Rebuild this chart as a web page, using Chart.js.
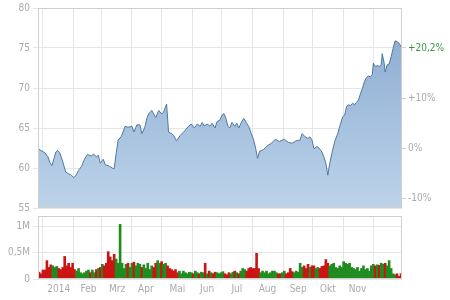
<!DOCTYPE html>
<html>
<head>
<meta charset="utf-8">
<script src="https://cdn.jsdelivr.net/npm/chart.js@4"></script>
<style>
  body { margin: 0; background: #fff; }
  #wrap { position: relative; width: 450px; height: 300px; }
  #priceBox { position: absolute; left: 0; top: 0; width: 450px; height: 220px; }
  #volBox { position: absolute; left: 0; top: 212px; width: 450px; height: 88px; }
</style>
</head>
<body>
<div id="wrap">
  <div id="priceBox"><canvas id="priceChart"></canvas></div>
  <div id="volBox"><canvas id="volChart"></canvas></div>
</div>
<script>
// day 0 = 1 Jan 2014
const priceDays = [-5, 2, 5, 7, 9, 11, 13, 15, 17, 20, 23, 26, 28, 31, 33, 36, 39, 42, 45, 49,
  51, 54, 56, 58, 61, 63, 67, 70, 72, 74, 76, 79, 81, 83, 86, 90, 92, 95, 98, 100,
  103, 105, 107, 110, 112, 114, 117, 120, 122, 125, 127, 130, 132, 135, 139, 143, 147, 150, 153, 156,
  159, 161, 163, 166, 169, 171, 174, 176, 179, 181, 183, 185, 187, 189, 191, 194, 196, 198, 201, 203,
  206, 208, 210, 213, 215, 217, 219, 223, 226, 231, 235, 239, 244, 248, 252, 256, 260, 262, 265, 268,
  270, 272, 274, 277, 279, 282, 284, 286, 288, 290, 292, 295, 298, 301, 303, 305, 307, 309, 311, 313,
  315, 317, 319, 321, 323, 325, 327, 329, 331, 333, 334, 336, 338, 340, 342, 343, 345, 346, 348, 350,
  352, 354, 356, 358, 360, 362, 363];
const prices = [62.4, 61.9, 61.4, 60.7, 60.3, 61.1, 62.0, 62.2, 61.9, 60.8, 59.5, 59.25, 59.2, 58.8, 59.0, 59.7, 60.2, 61.1, 61.7, 61.5,
  61.75, 61.4, 61.6, 60.6, 61.1, 60.4, 60.25, 60.0, 59.9, 61.8, 63.5, 63.9, 64.5, 65.2, 65.1, 65.2, 64.5, 65.4, 65.4, 64.3,
  65.1, 66.2, 66.8, 67.2, 66.75, 66.3, 67.2, 66.75, 67.0, 68.0, 64.5, 64.3, 64.1, 63.4, 64.1, 64.6, 65.2, 65.5, 65.0, 65.5,
  65.2, 65.7, 65.25, 65.5, 65.2, 65.6, 65.0, 65.8, 66.0, 66.6, 66.8, 66.2, 65.2, 65.0, 65.7, 65.2, 65.6, 65.0, 65.8, 66.2,
  65.6, 65.2, 64.5, 63.5, 62.5, 61.2, 62.1, 62.3, 62.7, 63.1, 63.6, 63.3, 63.6, 63.2, 63.1, 63.4, 63.5, 64.3, 63.9, 63.7,
  63.9, 63.5, 62.4, 62.7, 62.5, 62.0, 61.4, 60.6, 59.1, 60.6, 61.8, 63.3, 64.3, 65.6, 66.4, 66.6, 67.7, 67.9, 67.8, 68.1,
  67.9, 68.2, 68.5, 69.3, 69.95, 70.8, 71.3, 71.5, 71.4, 71.7, 73.1, 72.7, 72.8, 72.7, 72.9, 74.3, 73.1, 72.0, 72.9, 73.0,
  73.9, 74.95, 75.9, 75.8, 75.6, 75.2, 75.0];

const volDays = [-4, -2, 0, 2, 4, 6, 8, 10, 12, 14, 16, 18, 20, 22, 24, 26, 28, 30, 32, 34,
  36, 38, 40, 42, 44, 46, 48, 50, 52, 54, 56, 58, 60, 62, 64, 66, 68, 70, 72, 74,
  76, 78, 80, 82, 84, 86, 88, 90, 92, 94, 96, 98, 100, 102, 104, 106, 108, 110, 112, 114,
  116, 118, 120, 122, 124, 126, 128, 130, 132, 134, 136, 138, 140, 142, 144, 146, 148, 150, 152, 154,
  156, 158, 160, 162, 164, 166, 168, 170, 172, 174, 176, 178, 180, 182, 184, 186, 188, 190, 192, 194,
  196, 198, 200, 202, 204, 206, 208, 210, 212, 214, 216, 218, 220, 222, 224, 226, 228, 230, 232, 234,
  236, 238, 240, 242, 244, 246, 248, 250, 252, 254, 256, 258, 260, 262, 264, 266, 268, 270, 272, 274,
  276, 278, 280, 282, 284, 286, 288, 290, 292, 294, 296, 298, 300, 302, 304, 306, 308, 310, 312, 314,
  316, 318, 320, 322, 324, 326, 328, 330, 332, 334, 336, 338, 340, 342, 344, 346, 348, 350, 352, 354,
  356, 358, 360, 362];
// volume in millions
const volumes = [0.13, 0.10, 0.17, 0.17, 0.35, 0.22, 0.27, 0.25, 0.22, 0.24, 0.20, 0.18, 0.22, 0.43, 0.25, 0.30, 0.22, 0.30, 0.18, 0.15,
  0.20, 0.12, 0.10, 0.12, 0.15, 0.17, 0.12, 0.17, 0.12, 0.18, 0.20, 0.22, 0.28, 0.25, 0.30, 0.52, 0.42, 0.35, 0.47, 0.38,
  0.30, 1.04, 0.30, 0.20, 0.28, 0.30, 0.22, 0.30, 0.32, 0.25, 0.30, 0.28, 0.22, 0.27, 0.20, 0.30, 0.18, 0.25, 0.22, 0.30,
  0.35, 0.30, 0.33, 0.28, 0.30, 0.25, 0.20, 0.18, 0.15, 0.18, 0.12, 0.15, 0.10, 0.15, 0.12, 0.10, 0.13, 0.12, 0.10, 0.15,
  0.12, 0.10, 0.13, 0.12, 0.30, 0.10, 0.15, 0.12, 0.10, 0.13, 0.12, 0.10, 0.12, 0.14, 0.10, 0.08, 0.12, 0.10, 0.13, 0.15,
  0.12, 0.10, 0.15, 0.20, 0.18, 0.15, 0.20, 0.22, 0.20, 0.20, 0.49, 0.20, 0.12, 0.15, 0.12, 0.15, 0.10, 0.12, 0.15, 0.15,
  0.12, 0.10, 0.10, 0.12, 0.15, 0.10, 0.12, 0.20, 0.14, 0.12, 0.15, 0.13, 0.30, 0.22, 0.25, 0.20, 0.28, 0.22, 0.25, 0.25,
  0.20, 0.22, 0.20, 0.24, 0.25, 0.37, 0.30, 0.25, 0.28, 0.30, 0.22, 0.20, 0.25, 0.22, 0.33, 0.30, 0.28, 0.30, 0.22, 0.20,
  0.18, 0.22, 0.15, 0.20, 0.25, 0.18, 0.20, 0.15, 0.25, 0.28, 0.25, 0.27, 0.26, 0.30, 0.28, 0.30, 0.25, 0.35, 0.20, 0.10,
  0.08, 0.10, 0.05, 0.10];

const monthStarts = [0, 31, 59, 90, 120, 151, 181, 212, 243, 273, 304, 334];
const labelDays = [16, 46, 75, 104, 136, 166, 196, 227, 258, 288, 318];
const monthLabels = ['2014', 'Feb', 'Mrz', 'Apr', 'Mai', 'Jun', 'Jul', 'Aug', 'Sep', 'Okt', 'Nov'];
const priceTicks = [55, 60, 65, 70, 75, 80];
const volTicks = [0, 0.5, 1];
const volTickLabels = ['0', '0,5M', '1M'];

const basePrice = prices[0];
const lastPrice = prices[prices.length - 1];
const pctTicks = [basePrice * 0.9, basePrice, basePrice * 1.1, lastPrice];

const FONT = { family: 'DejaVu Sans Condensed', size: 10 };
const GRID = '#e6e6e6';
const TXT = '#aaa';

function priceAt(d) {
  for (let i = 1; i < priceDays.length; i++) {
    if (d <= priceDays[i]) {
      const t = (d - priceDays[i - 1]) / (priceDays[i] - priceDays[i - 1]);
      return prices[i - 1] + t * (prices[i] - prices[i - 1]);
    }
  }
  return lastPrice;
}

// no label overflow padding, the layout padding decides
function noPad(s) {
  s.paddingTop = 0;
  s.paddingBottom = 0;
}

const frame = {
  id: 'frame',
  afterDraw(chart) {
    const a = chart.chartArea;
    const c = chart.ctx;
    c.save();
    c.strokeStyle = '#cfcfcf';
    c.lineWidth = 1;
    c.strokeRect(Math.round(a.left) + 0.5, Math.round(a.top) + 0.5, Math.round(a.right - a.left) - 1, Math.round(a.bottom - a.top) - 1);
    c.restore();
  }
};

// price chart
new Chart(document.getElementById('priceChart'), {
  type: 'line',
  data: {
    datasets: [{
      data: priceDays.map((d, i) => ({ x: d, y: prices[i] })),
      borderColor: '#52779f',
      borderWidth: 1,
      pointRadius: 0,
      fill: 'start',
      backgroundColor: function (ctx) {
        const a = ctx.chart.chartArea;
        if (!a) return '#a8c3e0';
        const g = ctx.chart.ctx.createLinearGradient(0, a.top, 0, a.bottom);
        g.addColorStop(0, '#86a8ce');
        g.addColorStop(1, '#bdd3ea');
        return g;
      }
    }]
  },
  options: {
    responsive: true,
    maintainAspectRatio: false,
    animation: false,
    layout: { padding: { top: 8 } },
    plugins: { legend: { display: false }, tooltip: { enabled: false } },
    scales: {
      x: {
        type: 'linear', min: -5, max: 363, offset: false,
        afterBuildTicks: s => { s.ticks = monthStarts.map(v => ({ value: v })); },
        afterFit: s => { s.height = 12; s.paddingLeft = 0; s.paddingRight = 0; },
        ticks: { display: false },
        grid: { color: GRID, drawTicks: false },
        border: { display: false }
      },
      y: {
        min: 55, max: 80,
        afterBuildTicks: s => { s.ticks = priceTicks.map(v => ({ value: v })); },
        afterFit: s => { s.width = 38; noPad(s); },
        ticks: { color: TXT, font: FONT, padding: 3 },
        grid: { color: GRID, tickLength: 5 },
        border: { display: false }
      },
      y2: {
        position: 'right',
        min: 55, max: 80,
        afterBuildTicks: s => { s.ticks = pctTicks.map(v => ({ value: v })); },
        afterFit: s => { s.width = 48; noPad(s); },
        ticks: {
          autoSkip: false,
          font: FONT,
          padding: 2,
          color: ctx => ctx.index === 3 ? '#3c963c' : TXT,
          callback: function (v, i) {
            const p = (v / basePrice - 1) * 100;
            const txt = i === 3 ? p.toFixed(1).replace('.', ',') : Math.round(p).toString();
            return (p > 0.05 ? '+' : '') + txt + '%';
          }
        },
        grid: { drawOnChartArea: false, color: '#cfcfcf', tickLength: 4 },
        border: { display: false }
      }
    }
  },
  plugins: [frame]
});

// volume chart
new Chart(document.getElementById('volChart'), {
  type: 'bar',
  data: {
    datasets: [{
      data: volDays.map((d, i) => ({ x: d, y: volumes[i] })),
      backgroundColor: volDays.map(d => priceAt(d) >= priceAt(d - 2) ? '#1f8c1f' : '#cc1414'),
      barThickness: 2,
      borderWidth: 0
    }]
  },
  options: {
    responsive: true,
    maintainAspectRatio: false,
    animation: false,
    layout: { padding: { top: 4, right: 48 } },
    plugins: { legend: { display: false }, tooltip: { enabled: false } },
    scales: {
      x: {
        type: 'linear', min: -5, max: 363, offset: false,
        afterBuildTicks: s => { s.ticks = monthStarts.map(v => ({ value: v })); },
        afterFit: s => { s.height = 0; s.paddingLeft = 0; s.paddingRight = 0; },
        ticks: { display: false },
        grid: { color: GRID, drawTicks: false, offset: false },
        border: { display: false }
      },
      x2: {
        type: 'linear', position: 'bottom', min: -5, max: 363, offset: false,
        afterBuildTicks: s => { s.ticks = labelDays.map(v => ({ value: v })); },
        afterFit: s => { s.height = 21; s.paddingLeft = 0; s.paddingRight = 0; },
        ticks: {
          autoSkip: false, maxRotation: 0, color: TXT, font: FONT, padding: 4,
          callback: (v, i) => monthLabels[i]
        },
        grid: { display: false, drawTicks: false },
        border: { display: false }
      },
      y: {
        min: 0, max: 1.2,
        afterBuildTicks: s => { s.ticks = volTicks.map(v => ({ value: v })); },
        afterFit: s => { s.width = 38; noPad(s); },
        ticks: { color: TXT, font: FONT, padding: 3, callback: (v, i) => volTickLabels[i] },
        grid: { color: GRID, tickLength: 5 },
        border: { display: false }
      }
    }
  },
  plugins: [frame]
});
</script>
</body>
</html>
